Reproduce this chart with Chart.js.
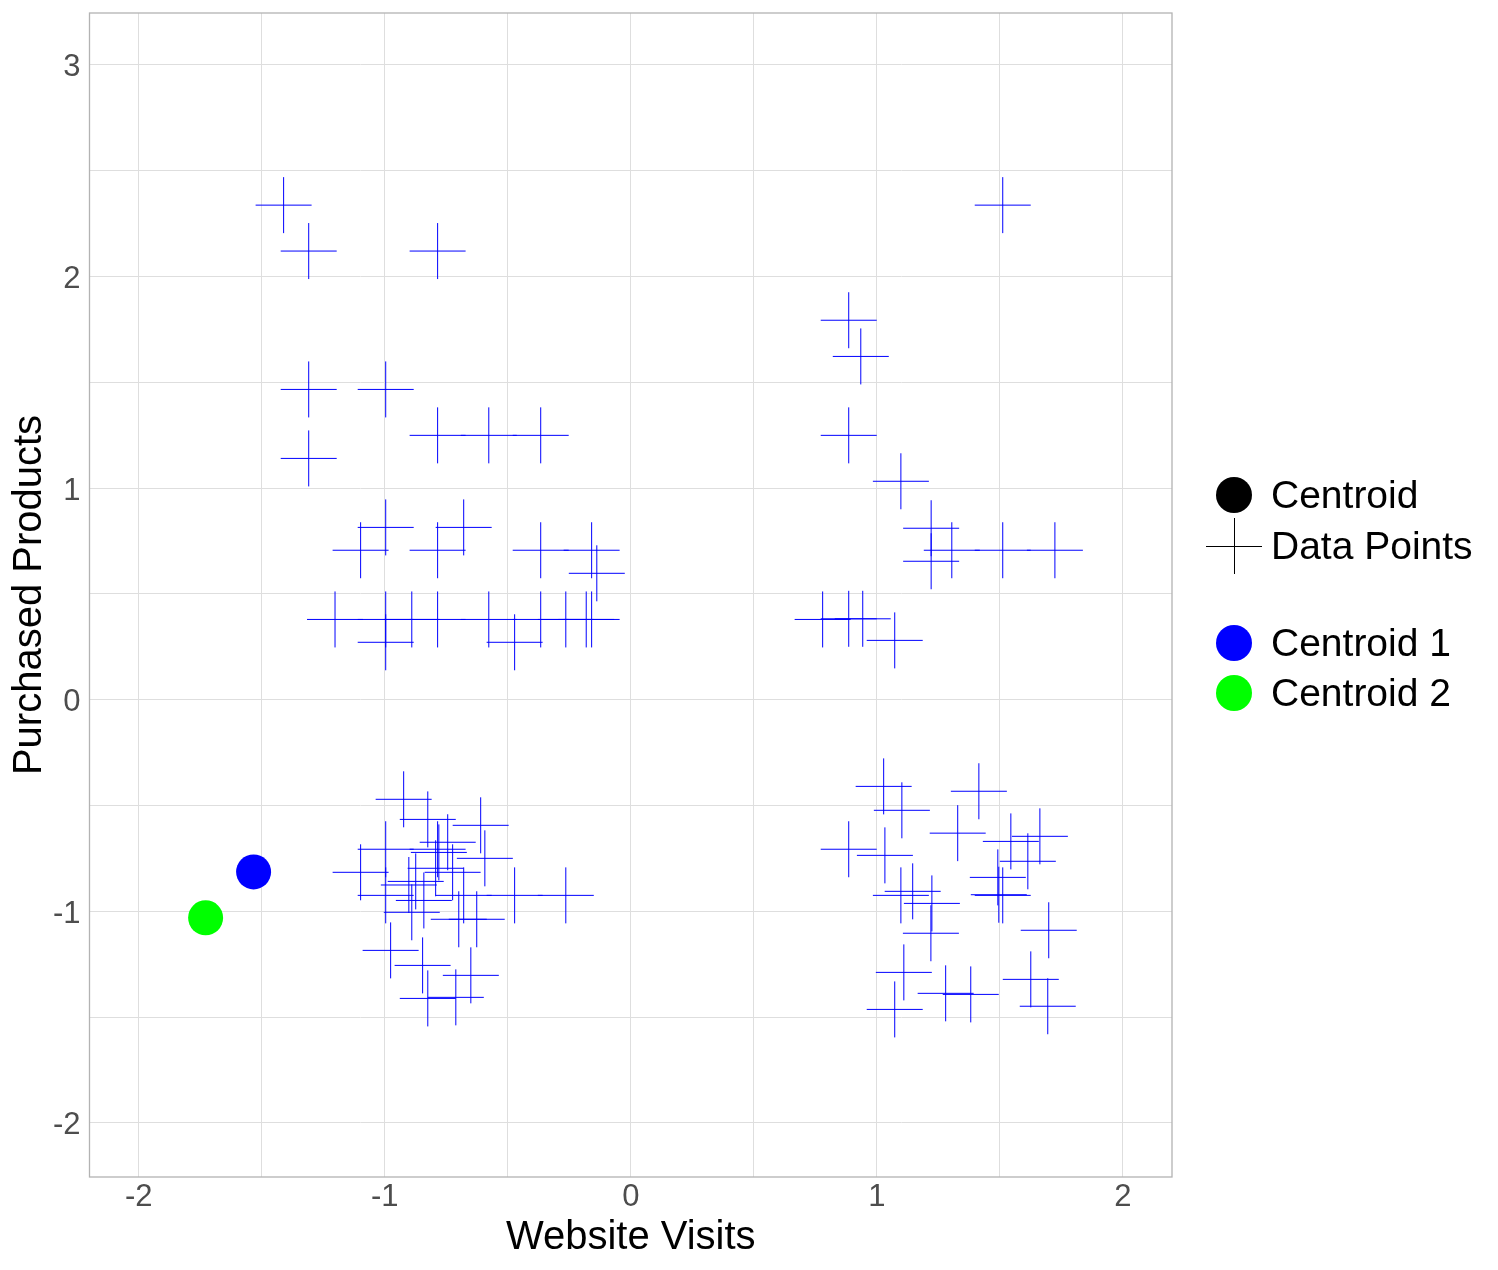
<!DOCTYPE html>
<html>
<head>
<meta charset="utf-8">
<title>Website Visits vs Purchased Products</title>
<script src="https://cdn.jsdelivr.net/npm/chart.js@4.4.0/dist/chart.umd.min.js"></script>
<style>
    html, body { margin: 0; padding: 0; background: #ffffff; }
    #wrap { width: 1498px; height: 1270px; }
</style>
</head>
<body>
<div id="wrap"><canvas id="kmeans-chart" width="1498" height="1270"></canvas></div>
<script>
/* ============================================= */
/*                    Data                       */
/* ============================================= */

// standardised website visits (x) for each data point
const websiteVisits = [
    -1.411, -1.309, -0.785, -1.309, -0.996, -0.785, -0.577, -0.366, -1.309,
    -0.996, -0.679, -1.098, -0.785, -0.366, -0.159, -0.138,
    -1.202, -0.996, -0.890, -0.785, -0.577, -0.366, -0.264, -0.181, -0.159,
    -0.996, -0.472,
    -0.923, -0.825, -0.610, -0.744, -0.996, -0.785, -0.780, -0.593, -0.793,
    -1.098, -0.724, -0.874, -0.902, -0.996, -0.472, -0.264, -0.679, -0.841,
    -0.890, -0.699, -0.626, -0.976, -0.846, -0.650, -0.825, -0.711,
    1.512, 0.886, 0.935, 0.886, 1.098, 1.221, 1.221, 1.305, 1.512, 1.724,
    0.780, 0.886, 0.943, 1.073,
    1.028, 1.102, 1.415, 1.329, 0.886, 1.033, 1.545, 1.663, 1.614, 1.492,
    1.496, 1.512, 1.098, 1.146, 1.224, 1.220, 1.699, 1.110, 1.626, 1.073,
    1.280, 1.382, 1.695
];

// standardised purchased products (y) for each data point
const purchasedProducts = [
    2.337, 2.120, 2.120, 1.466, 1.466, 1.249, 1.249, 1.249, 1.140,
    0.814, 0.814, 0.706, 0.706, 0.706, 0.706, 0.597,
    0.379, 0.379, 0.379, 0.379, 0.379, 0.379, 0.379, 0.379, 0.379,
    0.271, 0.271,
    -0.471, -0.566, -0.594, -0.674, -0.707, -0.707, -0.722, -0.750, -0.797,
    -0.816, -0.816, -0.859, -0.876, -0.925, -0.925, -0.925, -0.925, -0.949,
    -1.005, -1.038, -1.038, -1.185, -1.256, -1.303, -1.412, -1.407,
    2.337, 1.793, 1.622, 1.249, 1.032, 0.810, 0.654, 0.706, 0.706, 0.706,
    0.379, 0.382, 0.382, 0.280,
    -0.410, -0.523, -0.433, -0.631, -0.707, -0.736, -0.670, -0.646, -0.764, -0.840,
    -0.922, -0.925, -0.925, -0.906, -0.963, -1.104, -1.090, -1.289, -1.322, -1.464,
    -1.388, -1.393, -1.449
];

const centroidNames = ['Centroid 1', 'Centroid 2'];
const centroidX = [-1.533, -1.728];
const centroidY = [-0.814, -1.031];
const centroidColors = ['#0000FF', '#00FF00'];

const xTicks = [-2, -1, 0, 1, 2];
const yTicks = [-2, -1, 0, 1, 2, 3];

/* ============================================= */
/*                   Styles                      */
/* ============================================= */

const fontFamily = '"Liberation Sans", Arial, sans-serif';
const gridColor = '#DEDEDE';
const borderColor = '#B3B3B3';
const tickColor = '#4D4D4D';

// ticks every half unit, labels only on the whole ones
function halfSteps(list) {
    let out = [];
    for (let v = list[0] * 2; v <= list[list.length - 1] * 2; v++) {
        out.push({ value: v / 2 });
    }
    return out;
}

const points = websiteVisits.map((x, i) => ({ x: x, y: purchasedProducts[i] }));

const datasets = [{
    label: 'Data Points',
    data: points,
    pointStyle: 'cross',
    pointRadius: 28,
    pointHoverRadius: 28,
    borderColor: '#0000FF',
    backgroundColor: '#0000FF',
    borderWidth: 1
}];

centroidNames.forEach((name, i) => {
    datasets.push({
        label: name,
        data: [{ x: centroidX[i], y: centroidY[i] }],
        pointStyle: 'circle',
        pointRadius: 17.5,
        pointHoverRadius: 17.5,
        backgroundColor: centroidColors[i],
        borderColor: centroidColors[i],
        borderWidth: 0
    });
});

/* ============================================= */
/*                   Plugins                     */
/* ============================================= */

// grey frame round the panel
const panelBorder = {
    id: 'panelBorder',
    afterDatasetsDraw(chart) {
        const a = chart.chartArea;
        const ctx = chart.ctx;
        ctx.save();
        ctx.strokeStyle = borderColor;
        ctx.lineWidth = 1.3;
        ctx.strokeRect(a.left, a.top, a.right - a.left, a.bottom - a.top);
        ctx.restore();
    }
};

// legend in two groups, like the original
const legendItems = [
    { text: 'Centroid', kind: 'circle', color: '#000000', y: 495 },
    { text: 'Data Points', kind: 'cross', color: '#000000', y: 546 },
    { text: centroidNames[0], kind: 'circle', color: centroidColors[0], y: 643 },
    { text: centroidNames[1], kind: 'circle', color: centroidColors[1], y: 693 }
];

const sideLegend = {
    id: 'sideLegend',
    afterDraw(chart) {
        const ctx = chart.ctx;
        const keyX = 1234;
        ctx.save();
        ctx.font = '39px ' + fontFamily;
        ctx.textBaseline = 'middle';
        ctx.textAlign = 'left';
        legendItems.forEach(item => {
            if (item.kind === 'circle') {
                ctx.fillStyle = item.color;
                ctx.beginPath();
                ctx.arc(keyX, item.y, 18, 0, Math.PI * 2);
                ctx.fill();
            } else {
                ctx.strokeStyle = item.color;
                ctx.lineWidth = 1;
                ctx.beginPath();
                ctx.moveTo(keyX - 28, item.y + 0.5);
                ctx.lineTo(keyX + 28, item.y + 0.5);
                ctx.moveTo(keyX + 0.5, item.y - 28);
                ctx.lineTo(keyX + 0.5, item.y + 28);
                ctx.stroke();
            }
            ctx.fillStyle = '#000000';
            ctx.fillText(item.text, 1271, item.y + 2);
        });
        ctx.restore();
    }
};

/* ============================================= */
/*                    Chart                      */
/* ============================================= */

const chartCanvas = document.getElementById('kmeans-chart');

let kmeansChart = new Chart(chartCanvas, {
    type: 'scatter',
    data: { datasets: datasets },
    options: {
        responsive: false,
        devicePixelRatio: 1,
        animation: false,
        layout: {
            autoPadding: false,
            padding: { top: 13, right: 326, left: 0, bottom: 0 }
        },
        scales: {
            x: {
                type: 'linear',
                min: -2.2,
                max: 2.2,
                afterBuildTicks: scale => { scale.ticks = halfSteps(xTicks); },
                afterFit: scale => {
                    scale.height = 93;
                    scale.paddingLeft = 0;
                    scale.paddingRight = 0;
                },
                border: { display: false },
                grid: { color: gridColor, lineWidth: 1, drawTicks: false },
                ticks: {
                    autoSkip: false,
                    maxRotation: 0,
                    padding: 2,
                    color: tickColor,
                    font: { family: fontFamily, size: 31 },
                    callback: v => Number.isInteger(v) ? v : ''
                },
                title: {
                    display: true,
                    text: 'Website Visits',
                    color: '#000000',
                    font: { family: fontFamily, size: 40 },
                    padding: { top: 0, bottom: 8 }
                }
            },
            y: {
                type: 'linear',
                min: -2.256,
                max: 3.245,
                afterBuildTicks: scale => { scale.ticks = halfSteps(yTicks); },
                afterFit: scale => {
                    scale.width = 89.5;
                    scale.paddingTop = 0;
                    scale.paddingBottom = 0;
                },
                border: { display: false },
                grid: { color: gridColor, lineWidth: 1, drawTicks: false },
                ticks: {
                    autoSkip: false,
                    padding: 9,
                    labelOffset: 3,
                    color: tickColor,
                    font: { family: fontFamily, size: 31 },
                    callback: v => Number.isInteger(v) ? v : ''
                },
                title: {
                    display: true,
                    text: 'Purchased Products',
                    color: '#000000',
                    font: { family: fontFamily, size: 40 },
                    padding: { top: 6, bottom: 0 }
                }
            }
        },
        plugins: {
            legend: { display: false },
            tooltip: { enabled: false }
        }
    },
    plugins: [panelBorder, sideLegend]
});
</script>
</body>
</html>
